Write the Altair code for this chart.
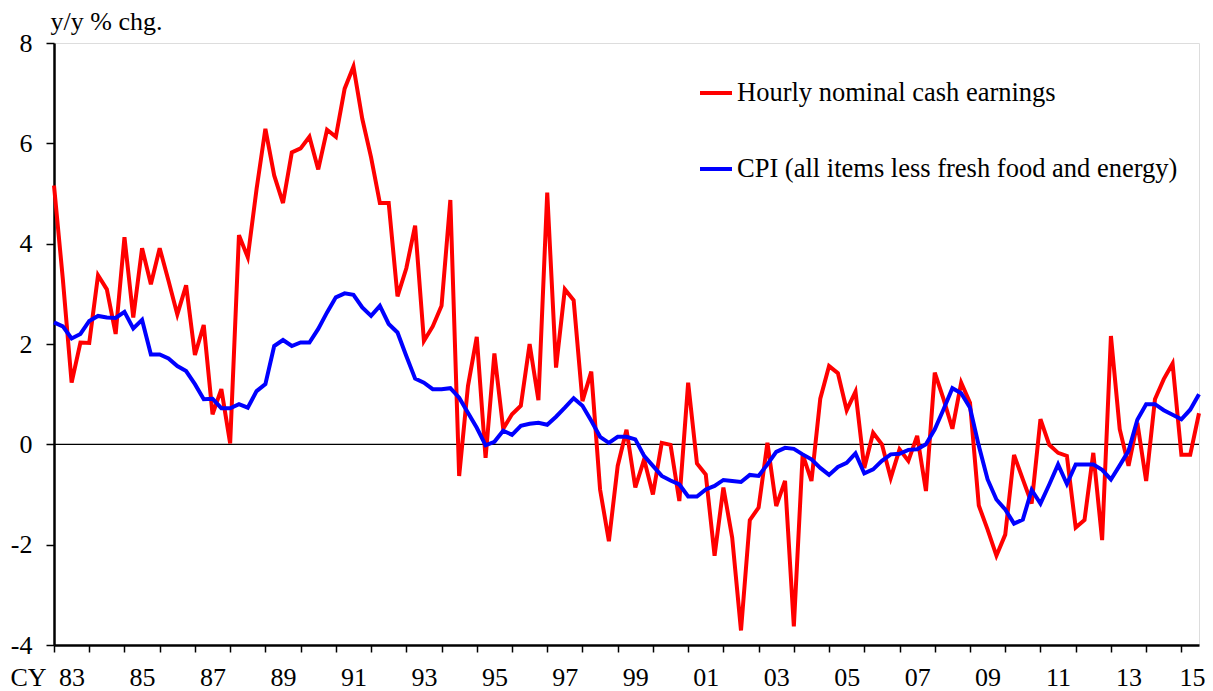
import altair as alt
import pandas as pd

FONT = "Liberation Serif"

# quarterly observations, 1983Q1 onward
earnings = [5.16, 3.3, 1.23, 2.03, 2.02, 3.37, 3.09, 2.2, 4.13, 2.53,
            3.91, 3.19, 3.91, 3.26, 2.59, 3.17, 1.78, 2.38, 0.6, 1.1,
            0.02, 4.17, 3.73, 5.09, 6.29, 5.36, 4.81, 5.82, 5.9, 6.13,
            5.48, 6.27, 6.13, 7.09, 7.53, 6.49, 5.72, 4.81, 4.81, 2.95,
            3.51, 4.36, 2.06, 2.35, 2.76, 4.87, -0.63, 1.16, 2.14, -0.27,
            1.81, 0.31, 0.6, 0.77, 2.0, 0.88, 5.02, 1.53, 3.09, 2.87,
            0.86, 1.45, -0.9, -1.93, -0.43, 0.29, -0.86, -0.3, -1.0, 0.03,
            -0.01, -1.13, 1.23, -0.38, -0.6, -2.22, -0.86, -1.86, -3.71, -1.51,
            -1.26, 0.03, -1.23, -0.73, -3.63, -0.2, -0.73, 0.91, 1.56, 1.42,
            0.68, 1.05, -0.47, 0.23, 0.0, -0.67, -0.1, -0.33, 0.17, -0.93,
            1.43, 0.9, 0.31, 1.23, 0.83, -1.22, -1.7, -2.22, -1.8, -0.21,
            -0.7, -1.18, 0.5, -0.01, -0.17, -0.23, -1.66, -1.51, -0.17, -1.91,
            2.16, 0.3, -0.43, 0.43, -0.73, 0.9, 1.3, 1.61, -0.21, -0.21,
            0.62]

cpi = [2.43, 2.35, 2.11, 2.2, 2.46, 2.56, 2.53, 2.52, 2.64, 2.31,
       2.48, 1.79, 1.79, 1.71, 1.56, 1.46, 1.2, 0.9, 0.91, 0.72,
       0.72, 0.8, 0.73, 1.06, 1.2, 1.96, 2.08, 1.96, 2.03, 2.03,
       2.3, 2.63, 2.93, 3.01, 2.98, 2.73, 2.56, 2.76, 2.4, 2.23,
       1.76, 1.31, 1.23, 1.1, 1.1, 1.12, 0.93, 0.63, 0.33, -0.02,
       0.05, 0.27, 0.19, 0.37, 0.41, 0.43, 0.39, 0.55, 0.73, 0.92,
       0.77, 0.47, 0.15, 0.03, 0.15, 0.15, 0.1, -0.23, -0.43, -0.63,
       -0.72, -0.8, -1.04, -1.04, -0.9, -0.83, -0.71, -0.73, -0.75, -0.61,
       -0.63, -0.4, -0.15, -0.07, -0.09, -0.2, -0.3, -0.47, -0.61, -0.45,
       -0.37, -0.18, -0.58, -0.5, -0.33, -0.2, -0.19, -0.11, -0.1, 0.0,
       0.3, 0.7, 1.12, 1.02, 0.73, -0.03, -0.7, -1.1, -1.3, -1.58,
       -1.5, -0.91, -1.18, -0.8, -0.4, -0.79, -0.4, -0.4, -0.4, -0.51,
       -0.7, -0.42, -0.13, 0.49, 0.8, 0.8, 0.68, 0.59, 0.5, 0.69,
       1.0]

series_names = ["Hourly nominal cash earnings",
                "CPI (all items less fresh food and energy)"]
series_colors = ["#FF0000", "#0000FF"]

year_label_pos = [2, 10, 18, 26, 34, 42, 50, 58, 66, 74, 82, 90, 98, 106, 114, 122, 130]
year_labels = ["83", "85", "87", "89", "91", "93", "95", "97", "99",
               "01", "03", "05", "07", "09", "11", "13", "15"]
x_tick_values = list(range(0, 131, 2))
y_ticks = [-4, -2, 0, 2, 4, 6, 8]

rows = []
for name, vals in zip(series_names, [earnings, cpi]):
    for i, v in enumerate(vals):
        rows.append({"t": i, "value": v, "series": name})
df = pd.DataFrame(rows)

pos_str = "[" + ",".join(str(p) for p in year_label_pos) + "]"
lab_str = "[" + ",".join("'" + s + "'" for s in year_labels) + "]"
label_expr = (f"indexof({pos_str}, datum.value) >= 0 ? "
              f"{lab_str}[indexof({pos_str}, datum.value)] : ''")

x_enc = alt.X(
    "t:Q",
    scale=alt.Scale(domain=[0, 130], nice=False, zero=False),
    axis=alt.Axis(
        values=x_tick_values,
        labelExpr=label_expr,
        tickOpacity={"condition": {"test": "datum.value % 4 === 0", "value": 1}, "value": 0},
        labelOffset={"condition": {"test": "datum.value === 130", "value": -7}, "value": 0},
        tickSize=7, tickWidth=1.5, tickColor="black",
        domainColor="black", domainWidth=2.5,
        labelFont=FONT, labelFontSize=26, labelColor="black",
        labelPadding=12, labelAngle=0, labelOverlap=False, labelFlush=False,
        labelBound=False, grid=False,
        title="CY", titleFont=FONT, titleFontSize=26, titleFontWeight="normal",
        titleColor="black", titleX=-44, titleY=40, titleAlign="left",
        titleBaseline="alphabetic", titleAnchor="start",
    ),
)

y_enc = alt.Y(
    "value:Q",
    scale=alt.Scale(domain=[-4, 8], nice=False, zero=False),
    axis=alt.Axis(
        values=y_ticks, labelExpr="'' + datum.value",
        tickSize=8, tickWidth=1.5, tickColor="black",
        domainColor="black", domainWidth=2.5,
        labelFont=FONT, labelFontSize=26, labelColor="black", labelPadding=14,
        labelOverlap=False, labelFlush=False, grid=False,
        title="y/y % chg.", titleFont=FONT, titleFontSize=26,
        titleFontWeight="normal", titleColor="black", titleAngle=0,
        titleX=-4, titleY=-14, titleAlign="left", titleBaseline="alphabetic",
        titleAnchor="start",
    ),
)

lines = alt.Chart(df).mark_line(strokeWidth=4).encode(
    x=x_enc,
    y=y_enc,
    color=alt.Color(
        "series:N",
        scale=alt.Scale(domain=series_names, range=series_colors),
        legend=alt.Legend(
            title=None, orient="none", legendX=644, legendY=32,
            symbolType="stroke", symbolSize=1024, symbolStrokeWidth=4,
            labelFont=FONT, labelFontSize=26.5, labelColor="black",
            labelOffset=3, rowPadding=44, padding=0, labelLimit=0,
        ),
    ),
    detail="series:N",
)

zero_line = alt.Chart(pd.DataFrame({"z": [0]})).mark_rule(
    color="black", strokeWidth=1.2
).encode(y="z:Q")

chart = alt.layer(zero_line, lines).properties(
    width=1145, height=602,
    autosize=alt.AutoSizeParams(type="none"),
    padding={"left": 46, "top": 35, "right": 6, "bottom": 46},
).configure_view(stroke="#777777", strokeWidth=1.5).configure(background="white")

chart.save("out.html", embed_options={"renderer": "svg", "actions": False})
